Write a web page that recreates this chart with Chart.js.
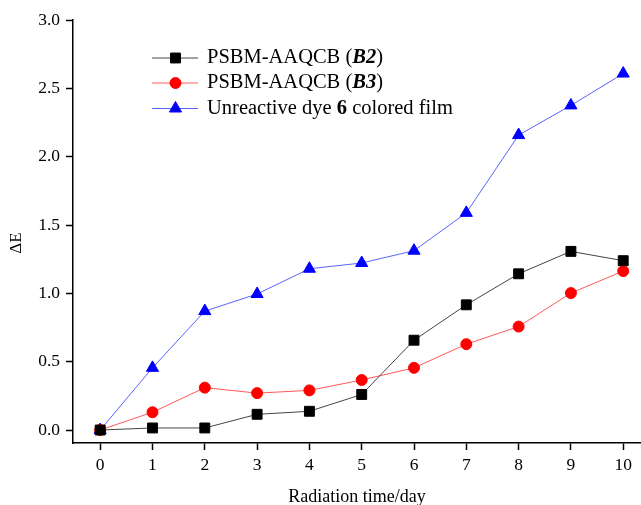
<!DOCTYPE html>
<html>
<head>
<meta charset="utf-8">
<script src="https://cdn.jsdelivr.net/npm/chart.js@4"></script>
<style>
  html, body { margin: 0; padding: 0; background: #fff; }
  canvas { display: block; }
</style>
</head>
<body>
<canvas id="deltaChart" width="641" height="505"></canvas>
<script>
// values
const days = [0, 1, 2, 3, 4, 5, 6, 7, 8, 9, 10];
const b2Values = [0, 0.015, 0.015, 0.115, 0.137, 0.26, 0.657, 0.916, 1.143, 1.307, 1.239];
const b3Values = [0, 0.13, 0.31, 0.27, 0.29, 0.366, 0.455, 0.628, 0.757, 1.002, 1.163];
const dyeValues = [0, 0.455, 0.87, 0.995, 1.18, 1.222, 1.312, 1.589, 2.158, 2.375, 2.608];
const xTicks = [0, 1, 2, 3, 4, 5, 6, 7, 8, 9, 10];
const yTicks = [0, 0.5, 1.0, 1.5, 2.0, 2.5, 3.0];

// legend text pieces (plain / bold / bold italic)
const legendRows = [
    [['PSBM-AAQCB (', ''], ['B2', 'italic bold '], [')', '']],
    [['PSBM-AAQCB (', ''], ['B3', 'italic bold '], [')', '']],
    [['Unreactive dye ', ''], ['6', 'bold '], [' colored film', '']]
];

const serif = "'Liberation Serif', 'Times New Roman', serif";

function pointsOf(values) {
    return days.map((d, i) => ({ x: d, y: values[i] }));
}

// legend inside the plot (upper left) and the rotated y title
const innerLegend = {
    id: 'innerLegend',
    afterDraw(chart) {
        const ctx = chart.ctx;
        const rowY = [58, 83, 108.5];
        ctx.save();
        chart.data.datasets.forEach((ds, i) => {
            const y = rowY[i];
            ctx.strokeStyle = ds.borderColor;
            ctx.lineWidth = 1;
            ctx.beginPath();
            ctx.moveTo(152, y);
            ctx.lineTo(198, y);
            ctx.stroke();
            ctx.fillStyle = ds.pointBackgroundColor;
            ctx.strokeStyle = ds.pointBorderColor;
            Chart.helpers.drawPoint(ctx, {
                pointStyle: ds.pointStyle,
                radius: ds.pointRadius,
                rotation: 0,
                borderWidth: 1
            }, 175.5, y);

            let x = 207;
            ctx.fillStyle = '#000';
            ctx.textBaseline = 'middle';
            ctx.textAlign = 'left';
            legendRows[i].forEach(([text, style]) => {
                ctx.font = style + '20.5px ' + serif;
                ctx.fillText(text, x, y);
                x += ctx.measureText(text).width;
            });
        });

        // y axis title
        ctx.translate(17, 243);
        ctx.rotate(-Math.PI / 2);
        ctx.font = '17px ' + serif;
        ctx.fillStyle = '#000';
        ctx.textAlign = 'center';
        ctx.textBaseline = 'middle';
        ctx.fillText('ΔE', 0, 0);
        ctx.restore();
    }
};

const ctx = document.getElementById('deltaChart').getContext('2d');

new Chart(ctx, {
    type: 'line',
    data: {
        datasets: [
            {
                label: 'PSBM-AAQCB (B2)',
                data: pointsOf(b2Values),
                borderColor: '#444444',
                borderWidth: 1,
                pointStyle: 'rect',
                pointRadius: 7,
                pointBackgroundColor: '#000000',
                pointBorderColor: '#000000',
                pointBorderWidth: 1
            },
            {
                label: 'PSBM-AAQCB (B3)',
                data: pointsOf(b3Values),
                borderColor: '#ff5a5a',
                borderWidth: 1,
                pointStyle: 'circle',
                pointRadius: 5.5,
                pointBackgroundColor: '#ff0000',
                pointBorderColor: '#ff0000',
                pointBorderWidth: 1
            },
            {
                label: 'Unreactive dye 6 colored film',
                data: pointsOf(dyeValues),
                borderColor: '#5a64ff',
                borderWidth: 1,
                pointStyle: 'triangle',
                pointRadius: 7,
                pointBackgroundColor: '#0000ff',
                pointBorderColor: '#0000ff',
                pointBorderWidth: 1
            }
        ]
    },
    options: {
        responsive: false,
        animation: false,
        clip: false,
        layout: {
            autoPadding: false,
            padding: { top: 20, right: 0, bottom: 0, left: 0 }
        },
        plugins: {
            legend: { display: false },
            tooltip: { enabled: false }
        },
        scales: {
            x: {
                type: 'linear',
                min: -0.52,
                max: 10.34,
                afterBuildTicks: s => { s.ticks = xTicks.map(v => ({ value: v })); },
                afterFit: s => {
                    s.height = 62;
                    // the reference axis runs right to the picture edge
                    s.paddingLeft = 0;
                    s.paddingRight = 0;
                },
                grid: {
                    drawOnChartArea: false,
                    drawTicks: true,
                    tickLength: 7,
                    tickColor: '#000',
                    tickWidth: 1.5
                },
                border: { display: true, color: '#000', width: 1.5 },
                ticks: {
                    color: '#000',
                    padding: 5,
                    maxRotation: 0,
                    font: { family: serif, size: 17.5 },
                    callback: v => String(v)
                },
                title: {
                    display: true,
                    text: 'Radiation time/day',
                    color: '#000',
                    padding: { top: 0, bottom: -3 },
                    font: { family: serif, size: 18 }
                }
            },
            y: {
                min: -0.095,
                max: 3.0,
                afterBuildTicks: s => { s.ticks = yTicks.map(v => ({ value: v })); },
                afterFit: s => { s.width = 73; },
                grid: {
                    drawOnChartArea: false,
                    drawTicks: true,
                    tickLength: 7,
                    tickColor: '#000',
                    tickWidth: 1.5
                },
                border: { display: true, color: '#000', width: 1.5 },
                ticks: {
                    color: '#000',
                    padding: 6,
                    font: { family: serif, size: 17.5 },
                    callback: v => v.toFixed(1)
                },
                title: { display: false }
            }
        }
    },
    plugins: [innerLegend]
});
</script>
</body>
</html>
